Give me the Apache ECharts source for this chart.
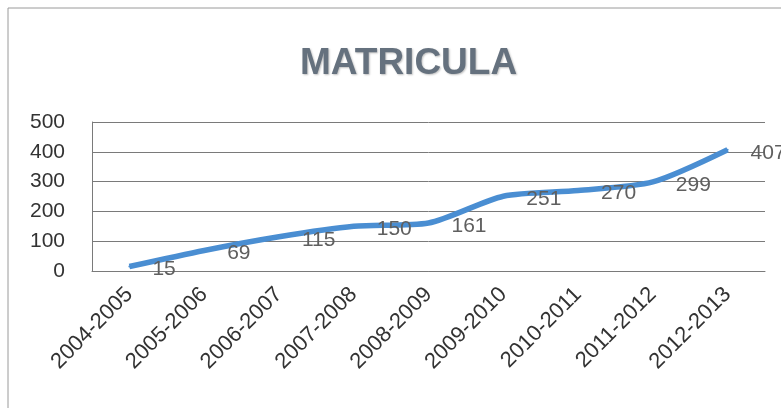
<!DOCTYPE html>
<html>
<head>
<meta charset="utf-8">
<script src="https://cdn.jsdelivr.net/npm/echarts@6/dist/echarts.min.js"></script>
<style>
html,body{margin:0;padding:0;background:#fff;}
#c{width:781px;height:408px;}
</style>
</head>
<body>
<div id="c"></div>
<script>
var categories = ['2004-2005','2005-2006','2006-2007','2007-2008','2008-2009','2009-2010','2010-2011','2011-2012','2012-2013'];
var matricula = [15, 69, 115, 150, 161, 251, 270, 299, 407];
var yTicks = [0, 100, 200, 300, 400, 500];

var chart = echarts.init(document.getElementById('c'), null, {renderer:'canvas'});
chart.setOption({
  backgroundColor: '#ffffff',
  animation: false,
  graphic: [{
    type: 'rect',
    shape: {x: 8, y: 8, width: 900, height: 500},
    style: {fill: 'none', stroke: '#9a9a9a', lineWidth: 1}
  }],
  title: {
    text: 'MATRICULA',
    left: 295,
    top: 40,
    textStyle: {
      fontFamily: 'Liberation Sans',
      fontWeight: 'bold',
      fontSize: 37,
      color: '#65717e',
      textShadowColor: 'rgba(0,0,0,0.25)',
      textShadowBlur: 2,
      textShadowOffsetX: 1,
      textShadowOffsetY: 1
    }
  },
  grid: {left: 92, right: 16, top: 122, bottom: 137, containLabel: false},
  xAxis: {
    type: 'category',
    data: categories,
    boundaryGap: true,
    axisLine: {show: true, lineStyle: {color: '#7a7a7a', width: 1}},
    axisTick: {show: false},
    axisLabel: {
      rotate: 45,
      margin: 20,
      interval: 0,
      fontFamily: 'Liberation Sans',
      fontSize: 22,
      color: '#333333'
    }
  },
  yAxis: {
    type: 'value',
    min: yTicks[0],
    max: yTicks[yTicks.length - 1],
    interval: 100,
    axisLine: {show: true, lineStyle: {color: '#7a7a7a', width: 1}},
    axisTick: {show: false},
    splitLine: {show: true, lineStyle: {color: '#7a7a7a', width: 1}},
    axisLabel: {
      margin: 27,
      fontFamily: 'Liberation Sans',
      fontSize: 21,
      color: '#333333'
    }
  },
  series: [{
    type: 'line',
    data: matricula,
    smooth: 0.25,
    showSymbol: true,
    showAllSymbol: true,
    symbol: 'circle',
    symbolSize: 2,
    itemStyle: {color: '#4a8ed2'},
    lineStyle: {color: '#4a8ed2', width: 5.5},
    label: {
      show: true,
      position: 'right',
      distance: 22,
      offset: [0, 3],
      fontFamily: 'Liberation Sans',
      fontSize: 21,
      color: '#5f5f5f'
    }
  }]
});
</script>
</body>
</html>
